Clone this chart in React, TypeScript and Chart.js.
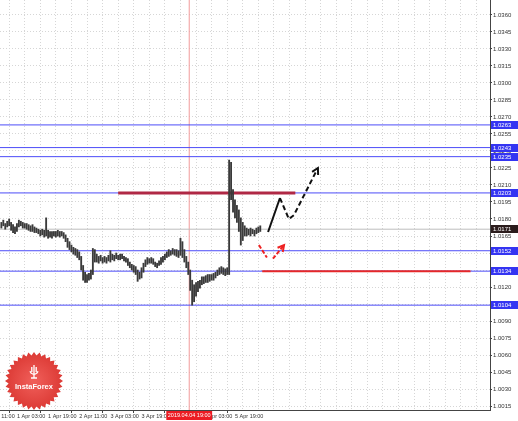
import React, { useEffect, useRef } from 'react';
import { Chart, registerables } from 'chart.js';

Chart.register(...registerables);

// ---- price bars (hourly) ----
const highs = [
  1.0177, 1.0179, 1.0176, 1.0178, 1.0180, 1.0177, 1.0175, 1.0173, 1.0176, 1.0179,
  1.0178, 1.0177, 1.0176, 1.0176, 1.0175, 1.0174, 1.0175, 1.0173, 1.0172, 1.0171,
  1.0170, 1.0171, 1.0170, 1.0181, 1.0170, 1.0169, 1.0169, 1.0169, 1.0169, 1.0170,
  1.0169, 1.0169, 1.0168, 1.0166, 1.0163, 1.0160, 1.0157, 1.0155, 1.0154, 1.0153,
  1.0151, 1.0147, 1.0139, 1.0133, 1.0131, 1.0132, 1.0135, 1.0154, 1.0153, 1.0149,
  1.0147, 1.0148, 1.0146, 1.0147, 1.0146, 1.0148, 1.0152, 1.0149, 1.0148, 1.0150,
  1.0148, 1.0149, 1.0149, 1.0147, 1.0146, 1.0145, 1.0142, 1.0140, 1.0139, 1.0138,
  1.0135, 1.0133, 1.0137, 1.0141, 1.0144, 1.0146, 1.0145, 1.0146, 1.0145, 1.0142,
  1.0141, 1.0143, 1.0146, 1.0147, 1.0149, 1.0151, 1.0153, 1.0152, 1.0154, 1.0153,
  1.0153, 1.0152, 1.0163, 1.0160, 1.0153, 1.0147, 1.0142, 1.0135, 1.0126, 1.0122,
  1.0124, 1.0125, 1.0126, 1.0129, 1.0129, 1.0130, 1.0131, 1.0131, 1.0131, 1.0132,
  1.0133, 1.0135, 1.0137, 1.0138, 1.0137, 1.0136, 1.0137, 1.0232, 1.0230, 1.0206,
  1.0197, 1.0192, 1.0188, 1.0181, 1.0177, 1.0174, 1.0172, 1.0171, 1.0172, 1.0171,
  1.0170, 1.0172, 1.0173, 1.0174,
];
const lows = [
  1.0172, 1.0174, 1.0171, 1.0173, 1.0174, 1.0170, 1.0168, 1.0167, 1.0169, 1.0173,
  1.0174, 1.0172, 1.0172, 1.0171, 1.0170, 1.0169, 1.0169, 1.0168, 1.0168, 1.0167,
  1.0165, 1.0166, 1.0164, 1.0165, 1.0163, 1.0164, 1.0163, 1.0165, 1.0164, 1.0165,
  1.0164, 1.0165, 1.0163, 1.0160, 1.0155, 1.0153, 1.0151, 1.0149, 1.0148, 1.0146,
  1.0144, 1.0135, 1.0126, 1.0124, 1.0124, 1.0126, 1.0127, 1.0131, 1.0142, 1.0142,
  1.0141, 1.0143, 1.0141, 1.0142, 1.0141, 1.0143, 1.0142, 1.0144, 1.0143, 1.0145,
  1.0144, 1.0144, 1.0145, 1.0143, 1.0142, 1.0139, 1.0137, 1.0135, 1.0133, 1.0131,
  1.0125, 1.0127, 1.0128, 1.0133, 1.0138, 1.0140, 1.0141, 1.0141, 1.0140, 1.0138,
  1.0137, 1.0139, 1.0140, 1.0142, 1.0144, 1.0146, 1.0147, 1.0148, 1.0149, 1.0148,
  1.0147, 1.0146, 1.0148, 1.0146, 1.0142, 1.0137, 1.0131, 1.0117, 1.0104, 1.0107,
  1.0112, 1.0116, 1.0119, 1.0122, 1.0123, 1.0124, 1.0124, 1.0125, 1.0126, 1.0126,
  1.0128, 1.0130, 1.0131, 1.0132, 1.0131, 1.0130, 1.0131, 1.0131, 1.0197, 1.0186,
  1.0181, 1.0177, 1.0169, 1.0157, 1.0161, 1.0165, 1.0165, 1.0166, 1.0165, 1.0167,
  1.0165, 1.0167, 1.0168, 1.0169,
];

// ---- axes ----
const yTickValues = [
  1.0015, 1.0030, 1.0045, 1.0060, 1.0075, 1.0090, 1.0105, 1.0120, 1.0135, 1.0150,
  1.0165, 1.0180, 1.0195, 1.0210, 1.0225, 1.0240, 1.0255, 1.0270, 1.0285, 1.0300,
  1.0315, 1.0330, 1.0345, 1.0360,
];
const gridHours = [
  0, 8, 16, 24, 32, 40, 48, 56, 64, 72, 80, 88, 96, 104, 112, 120, 128, 136, 144, 152,
  160, 168, 176, 184, 192, 200, 208, 216, 224, 232, 240, 248,
];
const xLabelHours = [0, 8, 24, 40, 56, 72, 88, 104, 120];
const xLabels = ['11:00', '1 Apr 03:00', '1 Apr 19:00', '2 Apr 11:00', '3 Apr 03:00', '3 Apr 19:00', '4 Apr 11:00', '5 Apr 03:00', '5 Apr 19:00'];
const yMin = 1.00115;
const yMax = 1.03732;
const xMin = -0.7;
const xMax = 251;

// ---- levels & annotations ----
const blueLevels = [1.0263, 1.0243, 1.0235, 1.0203, 1.0152, 1.0134, 1.0104];
const bidPrice = 1.0171;
const resistanceLevel = 1.0203;
const resistanceHours = [60, 151];
const supportLevel = 1.0134;
const supportHours = [134, 241];
const markerHour = 96.5;
const markerLabel = '2019.04.04 19:00';
const blackPathHours = [137, 143.1, 147.7, 150.3, 162.6];
const blackPathPrices = [1.01685, 1.01985, 1.0180, 1.01835, 1.0225];
const redDownHours = [132.3, 136.4];
const redDownPrices = [1.0157, 1.0146];
const redUpHours = [139.5, 145.2];
const redUpPrices = [1.0145, 1.0157];

const FONT = '"Liberation Sans", Arial, sans-serif';
const NARROW = '"Liberation Sans Narrow", "Liberation Sans", Arial, sans-serif';

function drawBadge(ctx: CanvasRenderingContext2D) {
  const cx = 34, cy = 381, R = 29, r = 25.5, n = 32;
  ctx.save();
  ctx.beginPath();
  for (let k = 0; k < n * 2; k++) {
    const rad = k % 2 === 0 ? R : r;
    const a = (Math.PI * k) / n - Math.PI / 2;
    const px = cx + rad * Math.cos(a);
    const py = cy + rad * Math.sin(a);
    if (k === 0) ctx.moveTo(px, py); else ctx.lineTo(px, py);
  }
  ctx.closePath();
  const g = ctx.createRadialGradient(cx, cy, 2, cx, cy, R);
  g.addColorStop(0, '#ef5d58');
  g.addColorStop(1, '#dc3a35');
  ctx.fillStyle = g;
  ctx.fill();
  ctx.strokeStyle = '#fff';
  ctx.fillStyle = '#fff';
  ctx.lineWidth = 1.3;
  ctx.beginPath();
  ctx.arc(cx, cy - 11, 4.2, Math.PI * 0.1, Math.PI * 0.9, false);
  ctx.stroke();
  ctx.beginPath();
  ctx.moveTo(cx, cy - 16);
  ctx.lineTo(cx, cy - 3);
  ctx.moveTo(cx - 2.2, cy - 14);
  ctx.lineTo(cx - 2.2, cy - 9);
  ctx.moveTo(cx + 2.2, cy - 14);
  ctx.lineTo(cx + 2.2, cy - 9);
  ctx.moveTo(cx - 3, cy - 3);
  ctx.lineTo(cx + 3, cy - 3);
  ctx.stroke();
  ctx.font = `bold 7.5px ${FONT}`;
  ctx.textAlign = 'center';
  ctx.textBaseline = 'middle';
  ctx.fillText('InstaForex', cx, cy + 6);
  ctx.restore();
}

const overlayPlugin = {
  id: 'overlay',
  afterDatasetsDraw(chart: any) {
    const ctx: CanvasRenderingContext2D = chart.ctx;
    chart.data.datasets.forEach((ds: any, i: number) => {
      if (!ds.arrowHead) return;
      const pts = chart.getDatasetMeta(i).data;
      const n = pts.length;
      const p1 = pts[n - 2];
      const p2 = pts[n - 1];
      const ang = Math.atan2(p2.y - p1.y, p2.x - p1.x);
      const L = 7, spread = 0.5;
      ctx.save();
      ctx.strokeStyle = ds.borderColor;
      ctx.lineWidth = ds.borderWidth;
      ctx.setLineDash([]);
      ctx.beginPath();
      ctx.moveTo(p2.x - L * Math.cos(ang - spread), p2.y - L * Math.sin(ang - spread));
      ctx.lineTo(p2.x, p2.y);
      ctx.lineTo(p2.x - L * Math.cos(ang + spread), p2.y - L * Math.sin(ang + spread));
      ctx.stroke();
      ctx.restore();
    });
    drawBadge(ctx);
  },
  afterDraw(chart: any) {
    const ctx: CanvasRenderingContext2D = chart.ctx;
    const ys = chart.scales.y;
    const xs = chart.scales.x;
    const area = chart.chartArea;
    ctx.save();
    ctx.font = `6px ${FONT}`;
    ctx.textBaseline = 'middle';
    ctx.textAlign = 'left';
    const box = (v: number, color: string) => {
      const py = Math.round(ys.getPixelForValue(v));
      ctx.fillStyle = color;
      ctx.fillRect(area.right + 1, py - 4, 27, 8);
      ctx.fillStyle = '#fff';
      ctx.fillText(v.toFixed(4), area.right + 3, py + 0.5);
    };
    blueLevels.forEach((v) => box(v, '#3434f2'));
    box(bidPrice, '#2b1c1c');
    // time marker label
    ctx.font = `5.5px ${NARROW}`;
    const mx = xs.getPixelForValue(markerHour);
    const w = ctx.measureText(markerLabel).width + 3;
    ctx.fillStyle = '#ec1c24';
    ctx.fillRect(mx - w / 2, area.bottom + 1, w, 9);
    ctx.fillStyle = '#fff';
    ctx.textAlign = 'center';
    ctx.fillText(markerLabel, mx, area.bottom + 5.5);
    ctx.restore();
  },
};

export default function App() {
  const ref = useRef<HTMLCanvasElement | null>(null);
  useEffect(() => {
    if (!ref.current) return;
    const hline = (v: number, color: string, width: number, from = xMin, to = xMax, order = 3) => ({
      type: 'line' as const,
      data: [{ x: from, y: v }, { x: to, y: v }],
      borderColor: color,
      borderWidth: width,
      pointRadius: 0,
      fill: false,
      order,
    });
    const path = (hs: number[], ps: number[]) => hs.map((h, i) => ({ x: h, y: ps[i] }));
    const datasets: any[] = [
      ...blueLevels.map((v) => hline(v, '#4c4cf8', 1)),
      hline(bidPrice, '#bdbdbd', 1, xMin, xMax, 4),
      {
        type: 'line',
        data: [{ x: markerHour, y: yMin }, { x: markerHour, y: yMax }],
        borderColor: '#f29a9a',
        borderWidth: 1,
        pointRadius: 0,
        order: 4,
      },
      hline(resistanceLevel, '#b02845', 3, resistanceHours[0], resistanceHours[1], 2),
      hline(supportLevel, '#e62828', 2, supportHours[0], supportHours[1], 2),
      {
        type: 'bar',
        data: highs.map((h, i) => ({ x: i, y: [lows[i], h] })),
        backgroundColor: '#3a3a3a',
        borderWidth: 0,
        barThickness: 1.2,
        order: 1,
      },
      {
        type: 'line',
        data: path(blackPathHours, blackPathPrices),
        borderColor: '#111111',
        borderWidth: 2,
        pointRadius: 0,
        tension: 0,
        segment: { borderDash: (c: any) => (c.p0DataIndex === 0 ? [] : [5, 3]) },
        arrowHead: true,
        order: 0,
      },
      {
        type: 'line',
        data: path(redDownHours, redDownPrices),
        borderColor: '#ee2222',
        borderWidth: 2,
        borderDash: [4, 2],
        pointRadius: 0,
        order: 0,
      },
      {
        type: 'line',
        data: path(redUpHours, redUpPrices),
        borderColor: '#ee2222',
        borderWidth: 2,
        borderDash: [4, 2],
        pointRadius: 0,
        arrowHead: true,
        order: 0,
      },
    ];
    const chart = new Chart(ref.current, {
      type: 'bar',
      data: { datasets },
      plugins: [overlayPlugin as any],
      options: {
        animation: false,
        responsive: false,
        events: [],
        layout: { padding: 0 },
        plugins: { legend: { display: false }, tooltip: { enabled: false } },
        scales: {
          x: {
            type: 'linear',
            min: xMin,
            max: xMax,
            offset: false,
            afterBuildTicks: (s: any) => {
              s.ticks = gridHours.map((v) => ({ value: v }));
            },
            afterFit: (s: any) => {
              s.height = 11;
              s.paddingLeft = 0;
              s.paddingRight = 0;
            },
            ticks: {
              autoSkip: false,
              maxRotation: 0,
              minRotation: 0,
              align: 'start',
              padding: 0,
              color: '#333',
              font: { size: 5.5, family: NARROW },
              callback: (v: any) => {
                const k = xLabelHours.indexOf(Number(v));
                return k >= 0 ? xLabels[k] : '';
              },
            },
            grid: {
              color: '#d6d6d6',
              tickLength: 3,
              tickColor: (c: any) => (xLabelHours.indexOf(c.tick?.value) >= 0 ? '#444' : 'rgba(0,0,0,0)'),
            },
            border: { color: '#444', dash: [1, 2] },
          } as any,
          y: {
            type: 'linear',
            position: 'right',
            min: yMin,
            max: yMax,
            afterBuildTicks: (s: any) => {
              s.ticks = yTickValues.map((v) => ({ value: v }));
            },
            afterFit: (s: any) => {
              s.width = 28;
              s.paddingTop = 0;
              s.paddingBottom = 0;
            },
            ticks: {
              autoSkip: false,
              padding: 1,
              color: '#333',
              font: { size: 6, family: FONT },
              callback: (v: any) => Number(v).toFixed(4),
            },
            grid: { color: '#d6d6d6', tickLength: 2, tickColor: '#444' },
            border: { color: '#444', dash: [1, 2] },
          } as any,
        },
      } as any,
    });
    return () => chart.destroy();
  }, []);
  return (
    <div style={{ position: 'absolute', left: 0, top: 0, width: 518, height: 421, background: '#fff' }}>
      <canvas ref={ref} width={518} height={421} style={{ display: 'block', width: 518, height: 421 }} />
    </div>
  );
}
